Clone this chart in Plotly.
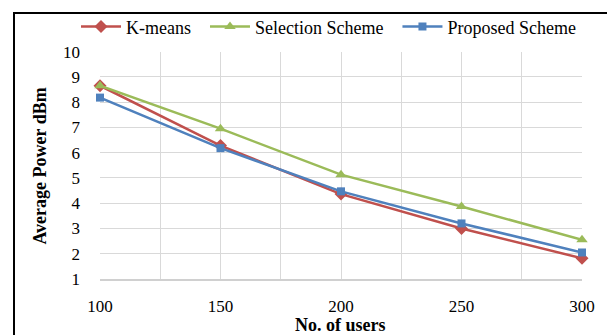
import plotly.graph_objects as go

users = [100, 150, 200, 250, 300]
kmeans = [8.65, 6.28, 4.36, 3.0, 1.82]
selection = [8.65, 6.95, 5.13, 3.87, 2.55]
proposed = [8.18, 6.18, 4.47, 3.2, 2.05]

FONT = "Liberation Serif"
NB = "\u00a0"
fig = go.Figure()
series = [
    ("K-means" + NB * 2, kmeans, "#C0504D", "diamond", 10),
    ("Selection Scheme" + NB * 2, selection, "#9BBB59", "triangle-up", 10),
    ("Proposed Scheme", proposed, "#4F81BD", "square", 8),
]
for name, vals, col, sym, sz in series:
    fig.add_trace(go.Scatter(
        x=users, y=vals, name=name, mode="lines+markers",
        line=dict(color=col, width=2.5),
        marker=dict(symbol=sym, size=sz, color=col),
        cliponaxis=False,
    ))

# page body has an 8px margin; paper coords are computed from window pixels
W, H = 607, 327
OFF = 8


def px(sx):
    return (sx - OFF) / W


def py(sy):
    return 1 - (sy - OFF) / H


fig.update_layout(
    width=W, height=H,
    margin=dict(l=0, r=0, t=0, b=0),
    plot_bgcolor="white", paper_bgcolor="white",
    font=dict(family=FONT, size=17, color="black"),
    showlegend=True,
    legend=dict(orientation="h", x=px(76), xanchor="left",
                y=py(24), yanchor="middle",
                bgcolor="rgba(0,0,0,0)", font=dict(size=18, family=FONT), itemwidth=40,
                tracegroupgap=0),
    xaxis=dict(domain=[px(100), px(582)], range=[100, 300], dtick=50, tick0=100,
               showgrid=True, gridcolor="#d9d9d9", gridwidth=1,
               minor=dict(dtick=25, showgrid=True, gridcolor="#d9d9d9", gridwidth=1),
               showline=True, linecolor="#d0d0d0", linewidth=1.5, zeroline=False,
               ticks="", ticklabelstandoff=11, tickfont=dict(size=17), automargin=False),
    yaxis=dict(domain=[py(278.5), py(49)], range=[1, 10], dtick=1, showgrid=True,
               gridcolor="#d9d9d9", gridwidth=1,
               showline=False, zeroline=False, ticks="", ticklabelstandoff=19,
               tickfont=dict(size=17), automargin=False),
)

fig.add_annotation(text="<b>No. of users</b>", xref="paper", yref="paper",
                   x=px(341), y=py(325), xanchor="center", yanchor="middle",
                   showarrow=False, font=dict(size=18, family=FONT))
fig.add_annotation(text="<b>Average Power dBm</b>", xref="paper", yref="paper",
                   x=px(40), y=py(165), xanchor="center", yanchor="middle",
                   textangle=-90, showarrow=False, font=dict(size=18, family=FONT))

fig.add_shape(type="rect", xref="paper", yref="paper",
              x0=px(14), x1=px(612), y0=py(345), y1=py(10),
              line=dict(color="black", width=2), fillcolor="rgba(0,0,0,0)", layer="above")

fig.write_html("out.html")
